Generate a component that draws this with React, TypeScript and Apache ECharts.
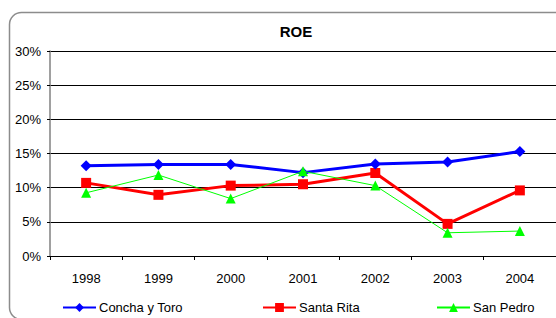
import React, { useEffect, useRef } from "react";
import * as echarts from "echarts";

const years = ["1998", "1999", "2000", "2001", "2002", "2003", "2004"];
const conchaYToro = [13.2, 13.4, 13.4, 12.2, 13.45, 13.75, 15.3];
const santaRita = [10.7, 8.95, 10.3, 10.5, 12.15, 4.7, 9.6];
const sanPedro = [9.25, 11.85, 8.4, 12.4, 10.3, 3.4, 3.65];
const seriesNames = ["Concha y Toro", "Santa Rita", "San Pedro"];

const FONT = "'Liberation Sans', Arial, sans-serif";

export default function App() {
  const ref = useRef<HTMLDivElement>(null);
  useEffect(() => {
    if (!ref.current) return;
    const chart = echarts.init(ref.current, null, { renderer: "svg" });
    const legendBase = {
      top: 301,
      itemWidth: 33,
      itemHeight: 11,
      itemGap: 0,
      textStyle: { fontFamily: FONT, fontSize: 13, color: "#000", padding: [0, 0, 0, -2] },
      padding: 0,
    };
    chart.setOption({
      animation: false,
      backgroundColor: "#fff",
      title: {
        text: "ROE",
        left: 291,
        top: 19,
        textAlign: "center",
        textStyle: { fontFamily: FONT, fontSize: 15, fontWeight: "bold", color: "#000" },
      },
      graphic: [
        {
          type: "rect",
          shape: { x: 9.5, y: 12.5, width: 620, height: 307, r: 12 },
          style: { fill: "none", stroke: "#8c8c8c", lineWidth: 1.5 },
          z: 100,
          silent: true,
        },
      ],
      grid: { left: 50, right: 0, top: 51, bottom: 62 },
      legend: [
        { ...legendBase, left: 62, data: [seriesNames[0]] },
        { ...legendBase, left: 262, data: [seriesNames[1]] },
        { ...legendBase, left: 436, data: [seriesNames[2]] },
      ],
      xAxis: {
        type: "category",
        data: years,
        boundaryGap: true,
        axisLine: { show: true, lineStyle: { color: "#000", width: 1 } },
        axisTick: { show: true, length: 4, lineStyle: { color: "#000" } },
        axisLabel: { fontFamily: FONT, fontSize: 13, color: "#000", margin: 16 },
      },
      yAxis: {
        type: "value",
        min: 0,
        max: 30,
        interval: 5,
        axisLine: { show: true, lineStyle: { color: "#808080", width: 1.5 } },
        axisTick: { show: true, length: 3, lineStyle: { color: "#000" } },
        axisLabel: {
          fontFamily: FONT,
          fontSize: 13,
          color: "#000",
          margin: 9,
          formatter: (v: number) => v + "%",
        },
        splitLine: { show: true, lineStyle: { color: "#000", width: 1 } },
      },
      series: [
        {
          name: seriesNames[0],
          type: "line",
          data: conchaYToro,
          symbol: "diamond",
          symbolSize: 11,
          lineStyle: { color: "#0000ff", width: 3 },
          itemStyle: { color: "#0000ff" },
          z: 3,
        },
        {
          name: seriesNames[1],
          type: "line",
          data: santaRita,
          symbol: "rect",
          symbolSize: 10,
          lineStyle: { color: "#ff0000", width: 3 },
          itemStyle: { color: "#ff0000" },
          z: 2,
        },
        {
          name: seriesNames[2],
          type: "line",
          data: sanPedro,
          symbol: "triangle",
          symbolSize: 10,
          lineStyle: { color: "#00ff00", width: 1 },
          itemStyle: { color: "#00ff00" },
          z: 4,
        },
      ],
    });
    return () => chart.dispose();
  }, []);
  return <div ref={ref} style={{ width: 556, height: 318, position: "fixed", left: 0, top: 0 }} />;
}
